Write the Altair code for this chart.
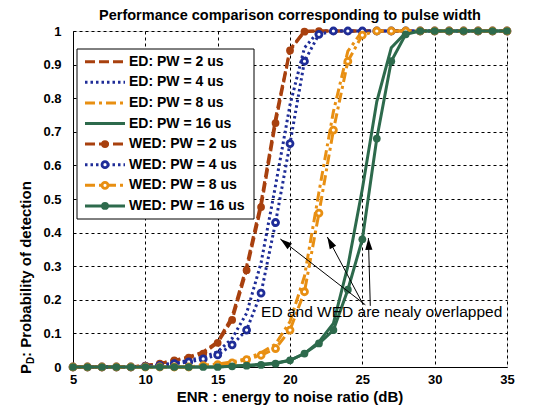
import altair as alt
import pandas as pd

# ---------------- data ----------------
ENR = list(range(5, 36))  # dB

ED_2US = [0, 0, 0, 0, 0, 0.005, 0.01, 0.02, 0.03, 0.045, 0.075, 0.15, 0.30, 0.49, 0.74,
          0.945, 1, 1, 1, 1, 1, 1, 1, 1, 1, 1, 1, 1, 1, 1, 1]
ED_4US = [0, 0, 0, 0, 0, 0.003, 0.006, 0.012, 0.02, 0.03, 0.045, 0.085, 0.16, 0.31, 0.54,
          0.78, 0.95, 1, 1, 1, 1, 1, 1, 1, 1, 1, 1, 1, 1, 1, 1]
ED_8US = [0, 0, 0, 0, 0, 0, 0, 0, 0, 0.005, 0.009, 0.015, 0.025, 0.042, 0.068,
          0.135, 0.27, 0.52, 0.76, 0.94, 1, 1, 1, 1, 1, 1, 1, 1, 1, 1, 1]
ED_16US = [0, 0, 0, 0, 0, 0, 0, 0, 0, 0, 0, 0.003, 0.005, 0.008, 0.012,
           0.02, 0.04, 0.075, 0.13, 0.30, 0.53, 0.79, 0.95, 0.995, 1, 1, 1, 1, 1, 1, 1]
WED_2US = [0, 0, 0, 0, 0, 0.004, 0.01, 0.02, 0.028, 0.04, 0.072, 0.14, 0.288, 0.476, 0.726,
           0.942, 0.998, 1, 1, 1, 1, 1, 1, 1, 1, 1, 1, 1, 1, 1, 1]
WED_4US = [0, 0, 0, 0, 0, 0.002, 0.005, 0.01, 0.015, 0.024, 0.036, 0.066, 0.11, 0.22, 0.43,
           0.665, 0.91, 0.99, 1, 1, 1, 1, 1, 1, 1, 1, 1, 1, 1, 1, 1]
WED_8US = [0, 0, 0, 0, 0, 0, 0, 0, 0, 0.004, 0.007, 0.012, 0.022, 0.035, 0.055,
           0.11, 0.224, 0.458, 0.705, 0.91, 0.988, 1, 1, 1, 1, 1, 1, 1, 1, 1, 1]
WED_16US = [0, 0, 0, 0, 0, 0, 0, 0, 0, 0, 0, 0.002, 0.004, 0.006, 0.01,
            0.02, 0.04, 0.07, 0.11, 0.23, 0.38, 0.68, 0.91, 0.99, 1, 1, 1, 1, 1, 1, 1]

SERIES_NAMES = ["ED: PW = 2 us", "ED: PW = 4 us", "ED: PW = 8 us", "ED: PW = 16 us",
                "WED: PW = 2 us", "WED: PW = 4 us", "WED: PW = 8 us", "WED: PW = 16 us"]
SERIES_VALUES = [ED_2US, ED_4US, ED_8US, ED_16US, WED_2US, WED_4US, WED_8US, WED_16US]

X_TICKS = [5, 10, 15, 20, 25, 30, 35]
Y_TICKS = [0, 0.1, 0.2, 0.3, 0.4, 0.5, 0.6, 0.7, 0.8, 0.9, 1]

# annotation arrows: tail (enr, pd) -> head (enr, pd)
ARROW_TAIL_X = [25.21, 25.07, 25.55]
ARROW_TAIL_Y = [0.185, 0.185, 0.182]
ARROW_HEAD_X = [19.33, 22.58, 25.42]
ARROW_HEAD_Y = [0.381, 0.387, 0.384]
ARROW_ANGLE = [308, 332, 358]
NOTE_TEXT = "ED and WED are nealy overlapped"
NOTE_X, NOTE_Y = 18.0, 0.164

TITLE = "Performance comparison corresponding to pulse width"
X_TITLE = "ENR : energy to noise ratio (dB)"

# ---------------- styles ----------------
BROWN, BLUE, ORANGE, GREEN = "#A8400E", "#1F2D98", "#E88F12", "#2D6A4C"
COLORS = [BROWN, BLUE, ORANGE, GREEN] * 2
DASHES = [[10, 4], [2.5, 3], [10, 4, 3, 4], None] * 2
MARKERS = [None] * 4 + ["filled", "hollow", "hollow", "filled"]
FONT = "Arial"

W, H = 434, 336
xs = alt.Scale(domain=[5, 35], nice=False, zero=False)
ys = alt.Scale(domain=[0, 1], nice=False)
grid_common = dict(grid=True, gridColor="#000000", gridDash=[3, 3], gridWidth=1, gridOpacity=1,
                   domainColor="#000000", domainWidth=1, tickSize=0, labelFont=FONT,
                   labelFontSize=13, labelFontWeight="bold", labelColor="#000000", title=None,
                   labelOverlap=False, labelFlush=False)
x_axis = alt.Axis(values=X_TICKS, labelPadding=6, **grid_common)
y_axis = alt.Axis(values=Y_TICKS, format=".1~f", labelPadding=12, **grid_common)


def X(field):
    return alt.X(field, scale=xs, axis=x_axis)


def Y(field):
    return alt.Y(field, scale=ys, axis=y_axis)


layers = []
for name, vals, color, dash in zip(SERIES_NAMES, SERIES_VALUES, COLORS, DASHES):
    d = pd.DataFrame({"enr": ENR, "pd": vals, "series": name})
    kw = dict(color=color, strokeWidth=3, clip=False)
    if dash is not None:
        kw["strokeDash"] = dash
    layers.append(alt.Chart(d).mark_line(**kw).encode(x=X("enr:Q"), y=Y("pd:Q")))

# markers of WED curves, drawn after their own line
final_layers = layers[:4]
for i in range(4, 8):
    final_layers.append(layers[i])
    d = pd.DataFrame({"enr": ENR, "pd": SERIES_VALUES[i]})
    if MARKERS[i] == "filled":
        pm = alt.Chart(d).mark_point(shape="circle", filled=True, color=COLORS[i], size=60,
                                     opacity=1, clip=False)
    else:
        pm = alt.Chart(d).mark_point(shape="circle", filled=True, fill="white", stroke=COLORS[i],
                                     strokeWidth=2.8, size=36, opacity=1, fillOpacity=1, clip=False)
    final_layers.append(pm.encode(x=X("enr:Q"), y=Y("pd:Q")))

# annotation arrows
arr = pd.DataFrame({"x1": ARROW_TAIL_X, "y1": ARROW_TAIL_Y, "x2": ARROW_HEAD_X,
                    "y2": ARROW_HEAD_Y, "ang": ARROW_ANGLE})
final_layers.append(alt.Chart(arr).mark_rule(color="black", strokeWidth=1).encode(
    x=X("x1:Q"), y=Y("y1:Q"), x2="x2:Q", y2="y2:Q"))
final_layers.append(alt.Chart(arr).mark_point(
    shape="M0,0L-0.6,2L0.6,2Z", filled=True, color="black", size=144, opacity=1).encode(
    x=X("x2:Q"), y=Y("y2:Q"), angle=alt.Angle("ang:Q", scale=None)))
note = pd.DataFrame({"x": [NOTE_X], "y": [NOTE_Y], "t": [NOTE_TEXT]})
final_layers.append(alt.Chart(note).mark_text(
    align="left", baseline="middle", font=FONT, fontSize=15.5, color="black").encode(
    x=X("x:Q"), y=Y("y:Q"), text="t:N"))

one = pd.DataFrame({"k": [0]})

# legend (manual)
final_layers.append(alt.Chart(one).mark_rect(fill="white", stroke="black", strokeWidth=1).encode(
    x=alt.value(4), x2=alt.value(181), y=alt.value(18), y2=alt.value(188)))
for i, name in enumerate(SERIES_NAMES):
    yy = 30.7 + i * 20.6
    kw = dict(color=COLORS[i], strokeWidth=3)
    if DASHES[i] is not None:
        kw["strokeDash"] = DASHES[i]
    final_layers.append(alt.Chart(one).mark_rule(**kw).encode(
        x=alt.value(12), x2=alt.value(52), y=alt.value(yy)))
    if MARKERS[i] == "filled":
        final_layers.append(alt.Chart(one).mark_point(shape="circle", filled=True, color=COLORS[i],
                                                      size=60, opacity=1).encode(
            x=alt.value(32), y=alt.value(yy)))
    elif MARKERS[i] == "hollow":
        final_layers.append(alt.Chart(one).mark_point(shape="circle", filled=True, fill="white",
                                                      stroke=COLORS[i], strokeWidth=2.8, size=36,
                                                      opacity=1, fillOpacity=1).encode(
            x=alt.value(32), y=alt.value(yy)))
    final_layers.append(alt.Chart(one).mark_text(
        text=name, align="left", baseline="middle", font=FONT, fontSize=14, fontWeight="bold",
        color="black").encode(x=alt.value(56), y=alt.value(yy)))

# titles
final_layers.append(alt.Chart(one).mark_text(
    text=TITLE, align="center", baseline="middle", font=FONT, fontSize=14.5, fontWeight="bold",
    color="black").encode(x=alt.value(W / 2), y=alt.value(-15)))
final_layers.append(alt.Chart(one).mark_text(
    text=X_TITLE, align="center", baseline="middle", font=FONT, fontSize=15, fontWeight="bold",
    color="black").encode(x=alt.value(W / 2), y=alt.value(H + 30)))
final_layers.append(alt.Chart(one).mark_text(
    text="P", align="left", baseline="middle", angle=270, font=FONT, fontSize=15,
    fontWeight="bold", color="black").encode(x=alt.value(-47), y=alt.value(343)))
final_layers.append(alt.Chart(one).mark_text(
    text="D", align="left", baseline="middle", angle=270, font=FONT, fontSize=10,
    fontWeight="bold", color="black").encode(x=alt.value(-42), y=alt.value(333)))
final_layers.append(alt.Chart(one).mark_text(
    text=" : Probability of detection", align="left", baseline="middle", angle=270, font=FONT,
    fontSize=15, fontWeight="bold", color="black").encode(x=alt.value(-47), y=alt.value(326)))

chart = alt.layer(*final_layers).properties(
    width=W, height=H,
    padding={"left": 65, "top": 23, "right": 45, "bottom": 38},
    autosize=alt.AutoSizeParams(type="none"),
).configure_view(stroke=None).configure(font=FONT)

chart.save("out.html", embed_options={"renderer": "svg", "actions": False})
